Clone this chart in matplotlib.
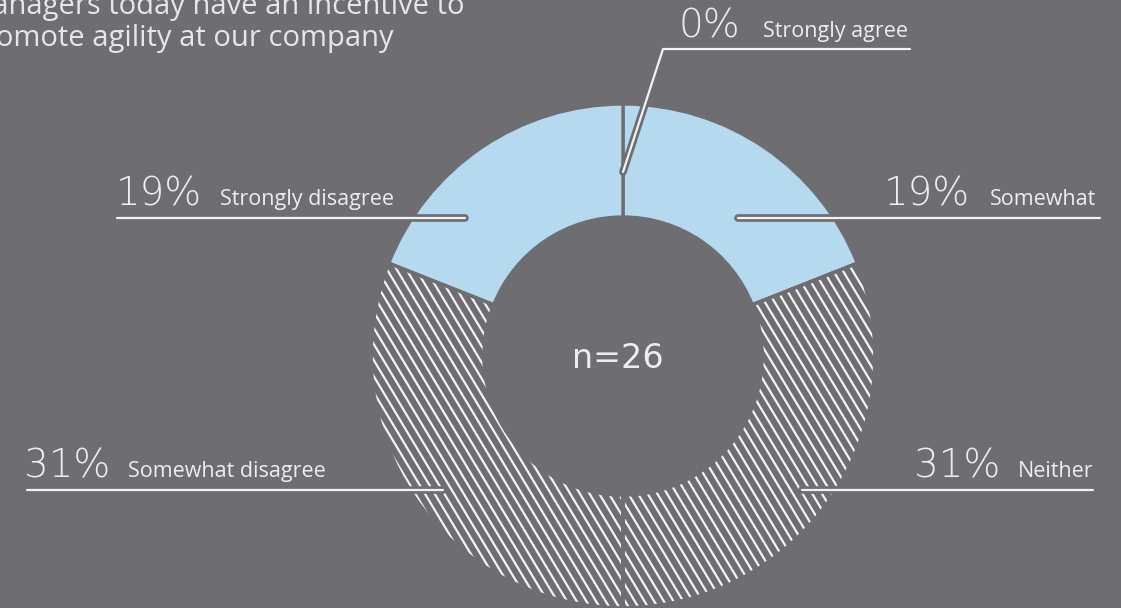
import numpy as np
import matplotlib
matplotlib.use("Agg")
import matplotlib.pyplot as plt
from matplotlib.collections import LineCollection
from matplotlib.patches import Wedge
import matplotlib.patheffects as pe

# Survey answers, clockwise from 12 o'clock
categories = ["Strongly agree", "Somewhat", "Neither", "Somewhat disagree", "Strongly disagree"]
shares = [0, 19, 31, 31, 19]          # percent of respondents
hatched = [False, False, True, True, False]
sample_label = "n=26"
title_lines = ["Managers today have an incentive to", "promote agility at our company"]

BG = "#6e6d72"
BLUE = "#b5d9ef"
INK = "#ededed"
W, H = 1121, 608

fig = plt.figure(figsize=(W / 100, H / 100), dpi=100, facecolor=BG)
ax = fig.add_axes([0, 0, 1, 1], facecolor=BG)

cx, cy, r_out, ring = 623, 356, 252, 113
wedges, _ = ax.pie(
    shares,
    colors=[BG if h else BLUE for h in hatched],
    startangle=-90,
    counterclock=True,
    center=(cx, cy),
    radius=r_out,
    wedgeprops=dict(width=ring, edgecolor=BG, linewidth=2.4),
)
ax.set_xlim(0, W)
ax.set_ylim(H, 0)
ax.set_aspect("equal")
ax.axis("off")

# diagonal stripes inside the hatched slices
ang = np.deg2rad(59)
d = np.array([np.cos(ang), np.sin(ang)])
nrm = np.array([d[1], -d[0]])
spacing = 8.3
for w, h in zip(wedges, hatched):
    if not h:
        continue
    segs = []
    for k in np.arange(-70, 71):
        p = np.array([cx, cy]) + nrm * k * spacing
        segs.append([p - d * 400, p + d * 400])
    lc = LineCollection(segs, colors="#f4f4f4", linewidths=1.6, zorder=3)
    ax.add_collection(lc)
    lc.set_clip_path(w)
    ax.add_patch(Wedge(w.center, w.r, w.theta1, w.theta2, width=w.width,
                       facecolor="none", edgecolor=BG, linewidth=2.6, zorder=4))

leader_fx = [pe.Stroke(linewidth=5.5, foreground=BG), pe.Normal()]

def leader(xs, ys):
    ax.plot(xs, ys, color="#f2f2f2", lw=1.6, solid_capstyle="round",
            solid_joinstyle="round", path_effects=leader_fx, zorder=6)

num_font = dict(family="DejaVu Sans", fontsize=28, color=INK, fontweight="light")
lab_font = dict(family="Open Sans", fontsize=15.5, color=INK)

# (number x, label x, baseline y, leader x-points, leader y-points)
layout = [
    (679, 763, 38, [910, 663, 623], [49, 49, 172]),
    (884, 990, 206, [1100, 738], [218, 218]),
    (914, 1018, 478, [1093, 802], [490, 490]),
    (24, 128, 478, [27, 443], [490, 490]),
    (116, 220, 206, [117, 465], [218, 218]),
]
for cat, val, (nx, lx, by, lxs, lys) in zip(categories, shares, layout):
    ax.text(nx, by, f"{val}%", va="baseline", ha="left", zorder=7, **num_font)
    ax.text(lx, by - 1, cat, va="baseline", ha="left", zorder=7, **lab_font)
    leader(lxs, lys)

ax.text(cx - 5, cy + 2, sample_label, ha="center", va="center",
        family="DejaVu Sans", fontsize=24, color=INK, zorder=7)

for i, line in enumerate(title_lines):
    ax.text(-34, 14 + 32 * i, line, ha="left", va="baseline",
            family="Open Sans", fontsize=21, color="#e6e6e6", zorder=7)

fig.savefig("out.png", dpi=100, facecolor=BG)
